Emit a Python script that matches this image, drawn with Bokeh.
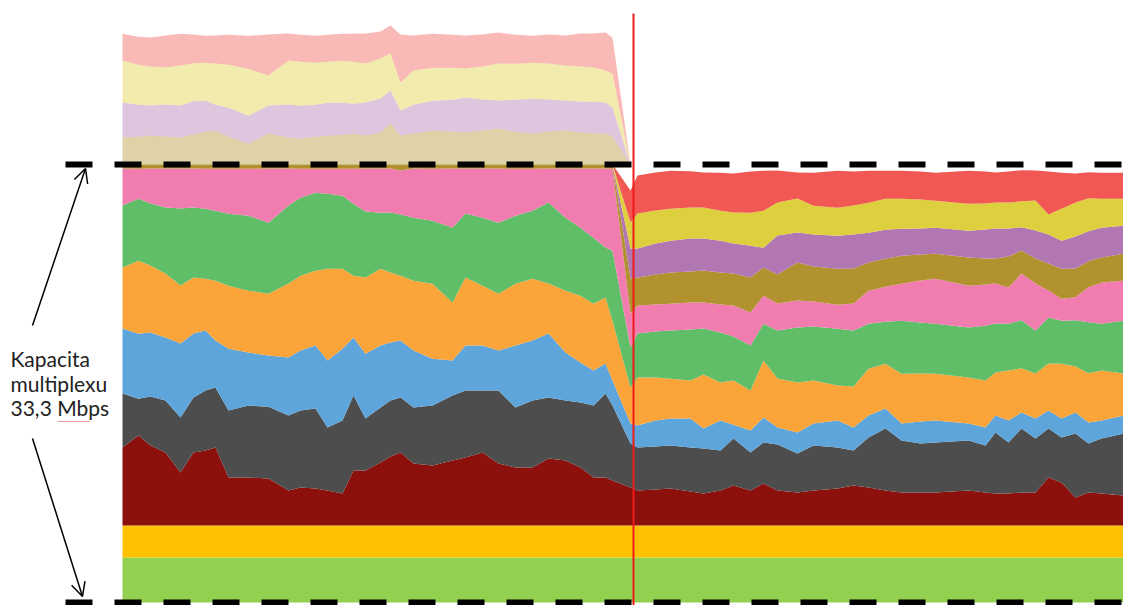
import numpy as np
from bokeh.plotting import figure
from bokeh.models import Range1d, Arrow, OpenHead, ColumnDataSource
from bokeh.embed import file_html
from bokeh.resources import INLINE
from bokeh.core.properties import value

# ---------------- data (Mbps) ----------------
CAPACITY = 33.3          # multiplex capacity, Mbps
SWITCH_TIME = 511        # moment of the switch (red line)

time_s = [0, 16, 28, 43, 58, 71, 83, 93, 106, 126, 146, 166, 178, 193, 205, 220, 231, 243,
          258, 268, 278, 291, 310, 330, 343, 360, 376, 393, 410, 426, 443, 458, 471, 483, 490,
          508,
          515, 533, 548, 568, 581, 598, 611, 628, 641, 655, 675, 691, 715, 731, 746, 763, 779,
          798, 813, 846, 863, 873, 886, 899, 913, 926, 939, 953, 966, 979, 1001]

band_green = 3.42
band_amber = 2.43

dark_red = [5.93, 6.84, 6.08, 5.55, 4.03, 5.55, 5.70, 5.93, 3.65, 3.65, 3.57, 2.66, 2.89, 2.81, 2.66,
            2.43, 4.18, 4.18, 4.79, 5.25, 5.55, 4.71, 4.56, 4.94, 5.17, 5.55, 4.71, 4.41, 4.41, 5.09,
            4.94, 4.41, 3.65, 3.65, 3.42,
            2.89,
            2.66, 2.74, 2.81, 2.59, 2.43, 2.66, 3.04, 2.66, 3.19, 2.66, 2.51, 2.66, 2.81, 3.04, 2.89,
            2.66, 2.51, 2.51, 2.51, 2.66, 2.51, 2.43, 2.43, 2.51, 2.51, 3.65, 3.27, 2.13, 2.51, 2.43, 2.28]
gray = [4.11, 2.81, 3.73, 3.95, 4.18, 4.18, 4.56, 4.56, 5.09, 5.47, 5.47, 5.70, 5.85, 6.08, 4.79,
        5.55, 5.70, 3.95, 4.18, 4.26, 4.18, 4.26, 4.56, 4.94, 5.09, 4.71, 5.55, 4.56, 5.09, 4.64,
        4.56, 4.94, 5.47, 6.39, 5.70,
        3.35,
        3.27, 3.27, 3.27, 3.35, 3.42, 3.04, 3.57, 2.89, 3.12, 3.50, 2.97, 3.42, 3.12, 2.66, 3.80,
        4.71, 3.95, 3.73, 3.80, 3.80, 3.57, 4.64, 3.88, 4.87, 4.11, 3.73, 3.42, 4.87, 3.73, 4.18, 4.71]
blue = [4.94, 4.94, 4.87, 4.79, 5.63, 4.87, 4.56, 3.57, 4.71, 4.03, 3.88, 4.41, 4.56, 4.79, 5.09,
        5.47, 4.41, 4.94, 4.71, 4.41, 4.33, 4.33, 3.57, 2.66, 3.42, 3.42, 3.04, 4.71, 4.56, 4.87,
        3.65, 3.04, 2.66, 2.28, 1.90,
        1.52,
        1.67, 1.98, 2.05, 2.20, 1.52, 2.28, 1.06, 1.67, 1.90, 1.29, 1.60, 1.67, 2.05, 1.75, 1.67,
        1.52, 1.29, 1.67, 1.67, 1.29, 1.37, 1.29, 1.67, 1.22, 1.52, 1.37, 1.44, 1.60, 1.60, 1.37, 1.37]
orange = [4.64, 5.55, 5.09, 4.87, 4.41, 4.26, 3.95, 4.56, 4.79, 4.71, 4.71, 5.63, 5.70, 5.70, 6.99,
          6.08, 4.71, 5.78, 5.85, 5.32, 4.94, 5.32, 5.70, 4.41, 5.17, 4.56, 4.33, 4.71, 4.71, 3.80,
          4.71, 5.09, 5.09, 5.02, 4.56,
          2.74,
          3.65, 3.27, 3.04, 2.89, 4.11, 2.89, 3.35, 3.04, 4.33, 3.73, 3.80, 3.27, 2.66, 3.12, 3.57,
          3.42, 3.80, 3.65, 3.57, 3.50, 3.57, 3.27, 3.80, 3.35, 3.42, 3.57, 4.18, 3.50, 3.73, 3.80, 3.19]
green = [4.71, 4.71, 4.71, 5.02, 5.85, 5.32, 5.32, 5.32, 5.47, 5.70, 5.40, 5.93, 5.93, 5.93, 5.70,
         5.55, 5.47, 5.02, 4.26, 4.56, 4.64, 4.79, 4.79, 5.70, 4.87, 5.17, 5.40, 5.17, 5.17, 6.16,
         5.55, 5.17, 5.02, 3.80, 5.32,
         3.04,
         3.35, 3.50, 3.65, 3.88, 3.50, 3.80, 3.35, 3.42, 2.81, 3.65, 4.18, 4.11, 4.33, 4.26, 3.42,
         3.19, 4.03, 3.88, 3.80, 3.80, 4.18, 3.73, 3.57, 3.65, 3.27, 3.50, 3.27, 3.50, 3.88, 3.57, 4.03]
pink = [2.81, 2.28, 2.66, 2.97, 3.04, 2.97, 3.04, 3.19, 3.42, 3.57, 4.11, 2.81, 2.20, 1.82, 1.90,
        2.05, 2.66, 3.27, 3.35, 3.35, 3.35, 3.73, 3.95, 4.49, 3.42, 3.73, 4.11, 3.57, 3.19, 2.59,
        3.73, 4.49, 5.25, 6.01, 6.23,
        2.59,
        2.13, 2.05, 2.05, 2.05, 1.98, 2.13, 2.36, 2.51, 2.13, 2.05, 2.05, 1.90, 1.82, 2.05, 2.51,
        2.66, 2.81, 3.19, 3.42, 3.19, 3.12, 3.04, 2.74, 3.57, 3.57, 2.05, 1.67, 1.75, 2.66, 3.12, 3.04]
brown = [2.36, 2.43, 2.51, 2.43, 2.36, 2.59, 2.81, 2.89, 2.43, 1.90, 2.66, 2.36, 2.28, 2.43, 2.51,
         2.59, 2.66, 2.51, 2.74, 3.42, 2.66, 2.66, 2.89, 2.81, 2.74, 2.89, 3.04, 2.81, 2.66, 2.81,
         2.89, 2.74, 2.66, 2.66, 2.43,
         2.66,
         2.13, 2.28, 2.36, 2.36, 2.43, 2.43, 2.43, 2.66, 2.13, 2.20, 2.89, 2.66, 2.74, 2.66, 2.13,
         2.13, 2.13, 1.98, 1.90, 2.13, 1.98, 1.90, 2.36, 1.75, 1.90, 2.05, 2.28, 2.20, 1.98, 1.90, 2.05]
purple = [2.66, 2.43, 2.28, 2.43, 2.43, 2.51, 2.36, 1.98, 2.20, 2.13, 2.13, 2.51, 2.51, 2.43, 2.51,
          2.43, 2.28, 2.51, 2.59, 2.51, 1.90, 2.20, 2.28, 2.43, 2.66, 2.36, 2.13, 2.43, 2.66, 2.43,
          2.28, 2.36, 2.43, 2.36, 2.20,
          2.28,
          2.20, 2.36, 2.43, 2.51, 2.43, 2.43, 2.28, 2.43, 1.52, 2.97, 2.28, 2.43, 2.51, 2.59, 2.28,
          2.20, 2.05, 1.98, 1.98, 2.05, 2.20, 2.28, 2.13, 1.75, 2.13, 2.20, 2.13, 2.43, 2.28, 2.28, 2.13]
yellow = [3.19, 3.04, 2.97, 2.81, 3.04, 2.89, 2.89, 3.12, 3.27, 3.57, 2.28, 3.35, 3.35, 3.19, 3.12,
          3.19, 3.19, 2.97, 3.04, 2.81, 2.13, 2.59, 2.51, 2.43, 2.20, 2.51, 2.81, 2.74, 2.74, 2.74,
          2.66, 2.66, 2.59, 2.43, 2.59,
          1.98,
          2.66, 2.51, 2.43, 2.36, 2.36, 2.28, 2.36, 2.51, 2.81, 2.51, 2.59, 2.20, 2.13, 2.20, 2.28,
          2.36, 2.28, 2.20, 2.05, 2.05, 1.98, 1.98, 1.98, 1.98, 2.28, 1.52, 2.43, 2.59, 2.51, 2.20, 2.05]
red = [2.05, 2.13, 2.20, 2.43, 2.43, 2.20, 2.05, 2.13, 2.28, 2.51, 3.12, 2.05, 2.05, 2.05, 2.05,
       2.05, 2.13, 2.28, 2.05, 2.13, 3.65, 2.66, 2.59, 2.51, 2.51, 2.43, 2.36, 2.20, 2.05, 2.20,
       2.28, 2.51, 2.59, 2.89, 2.74,
       2.43,
       2.89, 2.89, 2.89, 2.74, 2.66, 2.89, 2.97, 3.12, 3.04, 2.43, 1.98, 2.51, 2.81, 2.59, 2.43,
       2.13, 2.13, 2.13, 2.13, 2.51, 2.43, 2.28, 2.36, 2.36, 2.28, 3.27, 2.74, 2.20, 1.98, 1.98, 1.98]

label_lines = ["Kapacita", "multiplexu", "33,3 Mbps"]

# ---------------- figure ----------------
W, H = 1123, 605
ZERO_PX = 602                       # pixel row of 0 Mbps
CAP_PX = 164                        # pixel row of the capacity line
PX_PER_MBPS = (ZERO_PX - CAP_PX) / CAPACITY
X0 = -122                           # time at the left edge
y_top = ZERO_PX / PX_PER_MBPS
y_bot = -(H - ZERO_PX) / PX_PER_MBPS

p = figure(width=W, height=H, x_range=Range1d(X0, X0 + W), y_range=Range1d(y_bot, y_top),
           output_backend="svg", toolbar_location=None, min_border=0,
           x_axis_location=None, y_axis_location=None)
p.grid.visible = False
p.outline_line_color = None
p.background_fill_color = "white"
p.border_fill_color = "white"


def ydata(py):
    """pixel row -> data value, for annotation placement"""
    return (ZERO_PX - py) / PX_PER_MBPS


t = np.array(time_s, dtype=float)
n = len(t)

# constant bands at the bottom
p.varea(x=t, y1=np.zeros(n), y2=np.full(n, band_green), fill_color="#92D050")
p.varea(x=t, y1=np.full(n, band_green), y2=np.full(n, band_green + band_amber), fill_color="#FFC000")

layers = [
    (dark_red, "#8C100C"),
    (gray, "#4D4D4D"),
    (blue, "#5DA5DA"),
    (orange, "#FAA43A"),
    (green, "#60BD68"),
    (pink, "#F17CB0"),
    (brown, "#B2912F"),
    (purple, "#B276B2"),
    (yellow, "#DECF3F"),
    (red, "#F15854"),
]

bottom = np.full(n, band_green + band_amber)
for vals, color in layers:
    top = bottom + np.array(vals, dtype=float)
    # part above the capacity: faded
    p.varea(x=t, y1=np.maximum(bottom, CAPACITY), y2=np.maximum(top, CAPACITY),
            fill_color=color, fill_alpha=0.42)
    # part within the capacity: solid
    p.varea(x=t, y1=np.minimum(bottom, CAPACITY), y2=np.minimum(top, CAPACITY),
            fill_color=color, fill_alpha=1.0)
    bottom = top

# capacity lines (dashed)
cap_src = ColumnDataSource(dict(x0=[-57, -57], x1=[t[-1], t[-1]], y=[CAPACITY, 0.0]))
p.segment(x0="x0", y0="y", x1="x1", y1="y", source=cap_src, line_color="black",
          line_width=6, line_dash="27 22")

# switch moment (red line)
p.segment(x0=[SWITCH_TIME], y0=[y_bot], x1=[SWITCH_TIME], y1=[ydata(13)],
          line_color="#F01B1B", line_width=2)

# label
p.text(x=[-112] * 3, y=[ydata(358), ydata(383), ydata(407)], text=label_lines,
       text_font=value("Lato"), text_font_size="21px", text_baseline="middle",
       text_align="left", text_color="#222222")
# spell-check squiggle under "Mbps"
p.segment(x0=[-64], y0=[ydata(421)], x1=[-33], y1=[ydata(421)], line_color="#E03030",
          line_width=1, line_dash="1 1")

# arrows
p.add_layout(Arrow(end=OpenHead(size=14, line_width=1.5, line_color="black"),
                   x_start=-90, y_start=ydata(325), x_end=-37, y_end=ydata(168),
                   line_width=1.5, line_color="black"))
p.add_layout(Arrow(end=OpenHead(size=14, line_width=1.5, line_color="black"),
                   x_start=-90, y_start=ydata(438), x_end=-40, y_end=ydata(596),
                   line_width=1.5, line_color="black"))

open("out.html", "w").write(file_html(p, INLINE))
